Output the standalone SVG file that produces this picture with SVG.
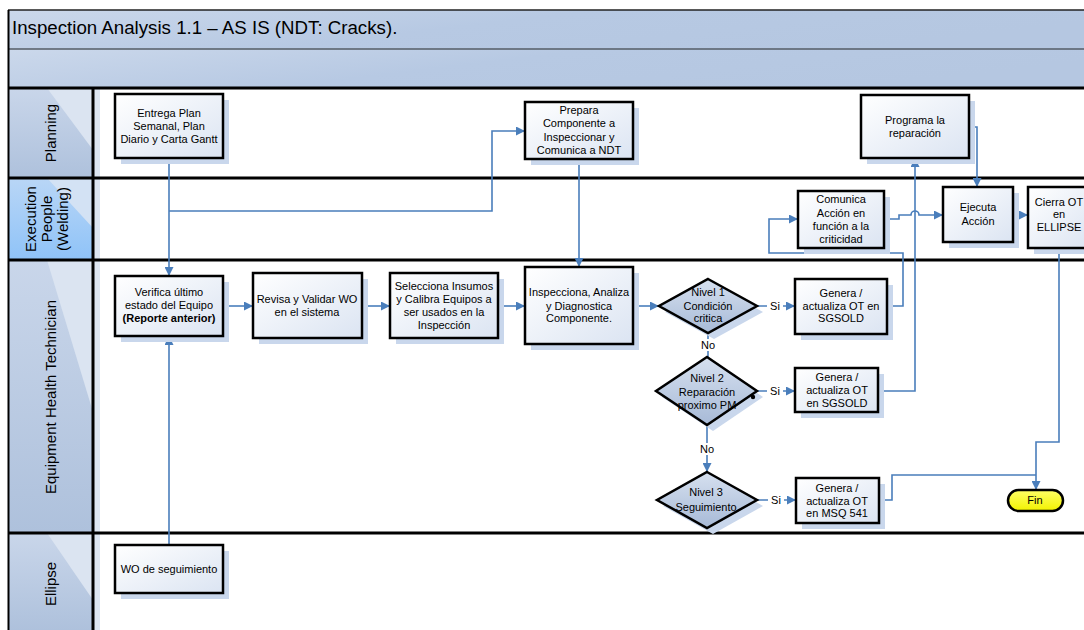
<svg xmlns="http://www.w3.org/2000/svg" width="1084" height="630" viewBox="0 0 1084 630">
<style>
.t{font-family:"Liberation Sans",Arial,sans-serif;font-size:11px;fill:#000;text-anchor:middle}
.lane{font-family:"Liberation Sans",Arial,sans-serif;font-size:15px;fill:#000;text-anchor:middle}
.box{fill:url(#ng);stroke:#000;stroke-width:2.5}
.dia{fill:url(#dg);stroke:#000;stroke-width:2.5}
.sh{fill:#c9d7ec}
.c{fill:none;stroke:#4a7ebb;stroke-width:1.6}
.ca{fill:none;stroke:#4a7ebb;stroke-width:1.6;marker-end:url(#ah)}
.lbl{fill:#fff}
.sep{stroke:#000;stroke-width:3}
</style>
<defs>
<linearGradient id="ng" x1="0" y1="0" x2="1" y2="1">
<stop offset="0" stop-color="#ffffff"/><stop offset="1" stop-color="#dbe4f2"/>
</linearGradient>
<linearGradient id="dg" x1="0" y1="0" x2="0" y2="1">
<stop offset="0" stop-color="#d6e0ef"/><stop offset="1" stop-color="#a7bad7"/>
</linearGradient>
<linearGradient id="band" x1="0" y1="0" x2="1" y2="0.3">
<stop offset="0" stop-color="#cbd8eb"/><stop offset="0.5" stop-color="#b7c9e3"/><stop offset="1" stop-color="#b5c7e1"/>
</linearGradient>
<linearGradient id="hg" x1="0" y1="0" x2="0" y2="1">
<stop offset="0" stop-color="#c9d6ea"/><stop offset="1" stop-color="#aec1dc"/>
</linearGradient>
<linearGradient id="eg" x1="0" y1="0" x2="0" y2="1">
<stop offset="0" stop-color="#b9d6f6"/><stop offset="1" stop-color="#8fc3f8"/>
</linearGradient>
<linearGradient id="fg" x1="0" y1="0" x2="0" y2="1">
<stop offset="0" stop-color="#ffff66"/><stop offset="1" stop-color="#f2f200"/>
</linearGradient>
<marker id="ah" viewBox="0 0 10 10" refX="10" refY="5" markerWidth="9" markerHeight="9" orient="auto" markerUnits="userSpaceOnUse">
<path d="M0,0 L10,5 L0,10 z" fill="#4a7ebb"/>
</marker>
</defs>

<rect width="1084" height="630" fill="#fff"/>

<g id="title">
<rect x="8" y="10" width="1080" height="39" fill="url(#band)"/>
<rect x="8" y="49" width="1080" height="39" fill="url(#band)"/>
<line x1="8" y1="10" x2="1084" y2="10" stroke="#222" stroke-width="1.5"/>
<line x1="8" y1="49" x2="1084" y2="49" stroke="#555c66" stroke-width="1.5"/>
<text x="12" y="34" font-family="Liberation Sans, Arial, sans-serif" font-size="18.7">Inspection Analysis 1.1 – AS IS (NDT: Cracks).</text>
</g>

<g id="lanes">
<rect x="94" y="88" width="6" height="542" fill="#dde6f2"/>
<rect x="8" y="88" width="85" height="90" fill="url(#hg)"/>
<polygon points="47,88 93,88 93,150" fill="#dbe4f1"/>
<rect x="8" y="178" width="85" height="82" fill="url(#eg)"/>
<polygon points="47,178 93,178 93,228" fill="#d3e2f4"/>
<rect x="8" y="260" width="85" height="273" fill="url(#hg)"/>
<polygon points="47,260 93,260 93,412" fill="#dbe4f1"/>
<rect x="8" y="533" width="85" height="97" fill="url(#hg)"/>
<polygon points="47,533 93,533 93,600" fill="#dbe4f1"/>
<text class="lane" transform="translate(56,133) rotate(-90)">Planning</text>
<text class="lane" transform="translate(51,219) rotate(-90)"><tspan x="0" y="-15">Execution</tspan><tspan x="0" y="1">People</tspan><tspan x="0" y="17">(Welding)</tspan></text>
<text class="lane" transform="translate(56,397) rotate(-90)">Equipment Health Technician</text>
<text class="lane" transform="translate(56,584) rotate(-90)">Ellipse</text>
<line class="sep" x1="8" y1="88" x2="1084" y2="88"/>
<line class="sep" x1="8" y1="178" x2="1084" y2="178"/>
<line class="sep" x1="8" y1="260" x2="1084" y2="260"/>
<line class="sep" x1="8" y1="533" x2="1084" y2="533"/>
<line class="sep" x1="93" y1="88" x2="93" y2="630"/>
<line x1="8.5" y1="10" x2="8.5" y2="630" stroke="#000" stroke-width="2"/>
</g>

<g id="connectors">
<path class="ca" d="M169,158 V276"/>
<path class="ca" d="M169,211 H492 V131 H525"/>
<path class="ca" d="M579,159 V267"/>
<path class="ca" d="M169,545 V336"/>
<path class="ca" d="M223,306 H253"/>
<path class="ca" d="M362,306 H390"/>
<path class="ca" d="M498,306 H525"/>
<path class="ca" d="M633,306 H659"/>
<path class="ca" d="M757,306 H795"/>
<path class="ca" d="M757,391 H795"/>
<path class="ca" d="M757,500 H796"/>
<path class="c" d="M708,333 V357"/>
<path class="ca" d="M707,425 V472"/>
<path class="ca" d="M887,306 H903 V253 H769 V219 H798"/>
<path class="ca" d="M878,391 H915 V158"/>
<path class="ca" d="M884,219 H899 V215 H911 A4,4 0 0 1 919,215 H943"/>
<path class="ca" d="M969,127 H977 V187"/>
<path class="ca" d="M1013,215 H1028"/>
<path class="ca" d="M1059,248 V442 H1036 V490"/>
<path class="c" d="M879,500 H892 V475 H1036"/>
<rect class="lbl" x="767" y="300" width="16" height="12"/>
<text class="t" x="775" y="310">Si</text>
<rect class="lbl" x="767" y="385" width="16" height="12"/>
<text class="t" x="775" y="395">Si</text>
<rect class="lbl" x="768" y="494" width="16" height="12"/>
<text class="t" x="776" y="504">Si</text>
<rect class="lbl" x="699" y="339" width="18" height="12"/>
<text class="t" x="708" y="349">No</text>
<rect class="lbl" x="698" y="443" width="18" height="12"/>
<text class="t" x="707" y="453">No</text>
</g>

<g id="n-entrega">
<rect class="sh" x="121" y="100" width="108" height="64"/>
<rect class="box" x="115" y="94" width="108" height="64"/>
<text class="t"><tspan x="169" y="117">Entrega Plan</tspan><tspan x="169" y="130">Semanal, Plan</tspan><tspan x="169" y="143">Diario y Carta Gantt</tspan></text>
</g>
<g id="n-prepara">
<rect class="sh" x="531" y="108" width="108" height="57"/>
<rect class="box" x="525" y="102" width="108" height="57"/>
<text class="t"><tspan x="579" y="114">Prepara</tspan><tspan x="579" y="127">Componente a</tspan><tspan x="579" y="141">Inspeccionar y</tspan><tspan x="579" y="154">Comunica a NDT</tspan></text>
</g>
<g id="n-programa">
<rect class="sh" x="867" y="101" width="108" height="63"/>
<rect class="box" x="861" y="95" width="108" height="63"/>
<text class="t"><tspan x="915" y="124">Programa la</tspan><tspan x="915" y="137">reparación</tspan></text>
</g>
<g id="n-comunica">
<rect class="sh" x="804" y="197" width="86" height="57"/>
<rect class="box" x="798" y="191" width="86" height="57"/>
<text class="t"><tspan x="841" y="203">Comunica</tspan><tspan x="841" y="217">Acción en</tspan><tspan x="841" y="230">función a la</tspan><tspan x="841" y="243">criticidad</tspan></text>
</g>
<g id="n-ejecuta">
<rect class="sh" x="949" y="193" width="70" height="55"/>
<rect class="box" x="943" y="187" width="70" height="55"/>
<text class="t"><tspan x="978" y="211">Ejecuta</tspan><tspan x="978" y="225">Acción</tspan></text>
</g>
<g id="n-cierra">
<rect class="sh" x="1034" y="193" width="62" height="61"/>
<rect class="box" x="1028" y="187" width="62" height="61"/>
<text class="t"><tspan x="1059" y="206">Cierra OT</tspan><tspan x="1059" y="218">en</tspan><tspan x="1059" y="231">ELLIPSE</tspan></text>
</g>
<g id="n-verifica">
<rect class="sh" x="121" y="282" width="108" height="60"/>
<rect class="box" x="115" y="276" width="108" height="60"/>
<text class="t"><tspan x="169" y="296">Verifica último</tspan><tspan x="169" y="309">estado del Equipo</tspan><tspan x="169" y="322" font-weight="bold">(Reporte anterior)</tspan></text>
</g>
<g id="n-revisa">
<rect class="sh" x="259" y="279" width="109" height="65"/>
<rect class="box" x="253" y="273" width="109" height="65"/>
<text class="t"><tspan x="307" y="303">Revisa y Validar WO</tspan><tspan x="307" y="316">en el sistema</tspan></text>
</g>
<g id="n-selecciona">
<rect class="sh" x="396" y="279" width="108" height="65"/>
<rect class="box" x="390" y="273" width="108" height="65"/>
<text class="t"><tspan x="444" y="290">Selecciona Insumos</tspan><tspan x="444" y="303">y Calibra Equipos a</tspan><tspan x="444" y="316">ser usados en la</tspan><tspan x="444" y="329">Inspección</tspan></text>
</g>
<g id="n-inspecciona">
<rect class="sh" x="531" y="273" width="108" height="77"/>
<rect class="box" x="525" y="267" width="108" height="77"/>
<text class="t"><tspan x="579" y="296">Inspecciona, Analiza</tspan><tspan x="579" y="310">y Diagnostica</tspan><tspan x="579" y="322">Componente.</tspan></text>
</g>
<g id="n-nivel1">
<polygon class="sh" points="714,285 763,312 714,339 665,312"/>
<polygon class="dia" points="708,279 757,306 708,333 659,306"/>
<text class="t"><tspan x="708" y="296">Nivel 1</tspan><tspan x="708" y="310">Condición</tspan><tspan x="708" y="322">critica</tspan></text>
</g>
<g id="n-nivel2">
<polygon class="sh" points="713,363 763,397 713,431 662,397"/>
<polygon class="dia" points="707,357 757,391 707,425 656,391"/>
<text class="t"><tspan x="707" y="382">Nivel 2</tspan><tspan x="707" y="396">Reparación</tspan><tspan x="707" y="409">proximo PM</tspan></text>
<circle cx="753" cy="397" r="2.2" fill="#000"/>
</g>
<g id="n-nivel3">
<polygon class="sh" points="713,478 763,506 713,534 663,506"/>
<polygon class="dia" points="707,472 757,500 707,528 657,500"/>
<text class="t"><tspan x="706" y="496">Nivel 3</tspan><tspan x="706" y="511">Seguimiento</tspan></text>
</g>
<g id="n-genera1">
<rect class="sh" x="801" y="285" width="92" height="55"/>
<rect class="box" x="795" y="279" width="92" height="55"/>
<text class="t"><tspan x="841" y="297">Genera /</tspan><tspan x="841" y="310">actualiza OT en</tspan><tspan x="841" y="322">SGSOLD</tspan></text>
</g>
<g id="n-genera2">
<rect class="sh" x="801" y="374" width="83" height="44"/>
<rect class="box" x="795" y="368" width="83" height="44"/>
<text class="t"><tspan x="837" y="381">Genera /</tspan><tspan x="837" y="394">actualiza OT</tspan><tspan x="837" y="407">en SGSOLD</tspan></text>
</g>
<g id="n-genera3">
<rect class="sh" x="802" y="484" width="83" height="45"/>
<rect class="box" x="796" y="478" width="83" height="45"/>
<text class="t"><tspan x="837" y="492">Genera /</tspan><tspan x="837" y="505">actualiza OT</tspan><tspan x="837" y="517">en MSQ 541</tspan></text>
</g>
<g id="n-fin">
<rect x="1008" y="490" width="55" height="21" rx="10.5" fill="url(#fg)" stroke="#000" stroke-width="2.5"/>
<text class="t" x="1035" y="504">Fin</text>
</g>
<g id="n-wo">
<rect class="sh" x="121" y="551" width="108" height="48"/>
<rect class="box" x="115" y="545" width="108" height="48"/>
<text class="t" x="169" y="573">WO de seguimiento</text>
</g>
</svg>
